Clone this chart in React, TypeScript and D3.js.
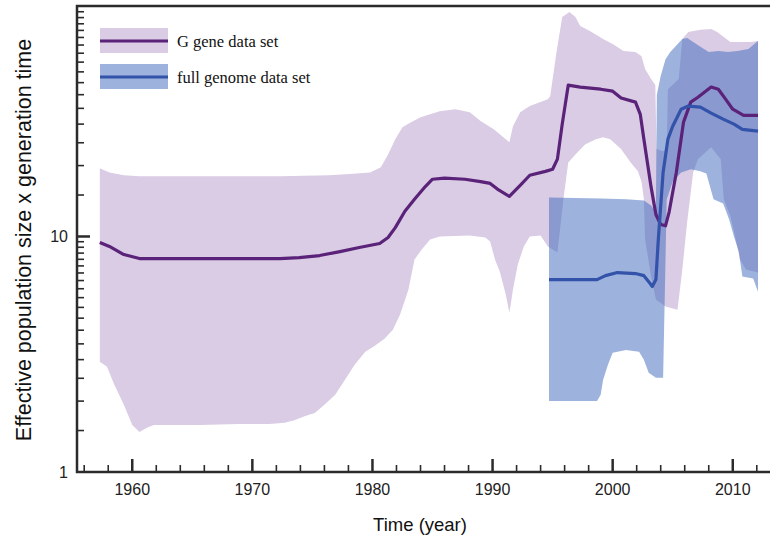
import * as d3 from 'd3';

type Pt = [number, number];

// G gene data set: [year, value]
const gMedian: Pt[] = [
  [1957.3, 9.43], [1958.1, 9.07], [1959.3, 8.38], [1960.6, 8.06], [1965.6, 8.06], [1972.3, 8.06],
  [1973.9, 8.14], [1975.6, 8.3], [1977.3, 8.63], [1978.9, 8.98], [1980.6, 9.34], [1981.3, 9.9],
  [1981.9, 10.9], [1982.7, 12.8], [1983.5, 14.4], [1984.4, 16.3], [1985.0, 17.5], [1986.0, 17.7],
  [1987.7, 17.5], [1989.0, 17.1], [1989.8, 16.8], [1990.4, 15.9], [1991.4, 14.8], [1992.3, 16.5],
  [1993.1, 18.2], [1994.4, 18.9], [1995.0, 19.3], [1995.4, 21.3], [1995.8, 30.0], [1996.3, 43.9],
  [1997.3, 43.1], [1999.0, 42.2], [2000.0, 41.4], [2000.7, 38.7], [2001.9, 37.2], [2002.3, 33.0],
  [2002.6, 25.9], [2003.2, 16.2], [2003.6, 12.4], [2004.0, 11.25], [2004.4, 11.1], [2004.7, 12.7],
  [2005.3, 18.7], [2005.9, 30.6], [2006.5, 37.2], [2007.1, 39.0], [2008.2, 43.1], [2008.8, 42.2],
  [2009.4, 38.3], [2010.0, 34.7], [2010.9, 32.7], [2012.1, 32.7],
];

const gUpper: Pt[] = [
  [1957.3, 19.5], [1958.1, 18.7], [1959.3, 18.2], [1960.6, 18.0], [1965.6, 18.0], [1972.3, 18.0],
  [1976.4, 18.2], [1978.1, 18.4], [1979.8, 18.7], [1980.7, 19.7], [1981.3, 22.3], [1981.9, 25.9],
  [1982.5, 29.1], [1983.1, 30.3], [1984.0, 32.1], [1985.6, 34.0], [1986.9, 34.7], [1988.1, 33.7],
  [1989.0, 30.9], [1990.1, 28.5], [1991.1, 25.9], [1991.4, 25.1], [1991.7, 29.4], [1992.3, 33.7],
  [1993.1, 35.8], [1994.6, 38.3], [1994.8, 39.4], [1995.3, 59.5], [1995.8, 85.5], [1996.4, 89.8],
  [1996.9, 85.5], [1997.3, 78.3], [1998.1, 74.6], [1999.2, 68.9], [2000.0, 65.6], [2000.9, 61.3],
  [2001.9, 60.7], [2002.4, 58.3], [2002.7, 51.4], [2003.2, 46.6], [2003.55, 44.0], [2003.65, 23.5],
  [2004.2, 23.0], [2004.5, 23.5], [2004.6, 42.2], [2005.5, 46.6], [2005.8, 68.9], [2006.3, 73.8],
  [2007.3, 75.5], [2008.2, 76.0], [2008.7, 73.8], [2009.8, 66.9], [2011.5, 66.9], [2012.1, 67.6],
];

const gLower: Pt[] = [
  [1957.3, 2.94], [1957.9, 2.8], [1958.5, 2.35], [1959.3, 1.93], [1960.0, 1.585], [1960.6, 1.48],
  [1961.3, 1.55], [1961.8, 1.585], [1965.6, 1.585], [1968.9, 1.6], [1971.4, 1.6], [1972.7, 1.62],
  [1973.5, 1.66], [1974.4, 1.73], [1975.2, 1.78], [1976.0, 1.93], [1976.9, 2.13], [1977.7, 2.46],
  [1978.5, 2.85], [1979.4, 3.24], [1980.2, 3.44], [1981.0, 3.68], [1981.7, 4.02], [1982.3, 4.66],
  [1983.0, 5.95], [1983.5, 7.98], [1984.1, 8.8], [1984.8, 9.71], [1985.6, 10.0], [1988.1, 10.1],
  [1989.4, 9.9], [1989.8, 9.52], [1990.2, 7.98], [1990.6, 7.1], [1991.1, 5.67], [1991.4, 4.75],
  [1991.7, 5.95], [1992.1, 7.6], [1992.6, 9.07], [1993.1, 10.0], [1994.0, 10.1], [1994.6, 9.07],
  [1995.4, 8.55], [1995.9, 14.4], [1996.3, 20.6], [1996.9, 22.3], [1997.7, 24.6], [1998.6, 25.9],
  [1999.2, 26.4], [1999.8, 25.9], [2000.7, 23.5], [2001.5, 20.6], [2002.1, 18.9], [2002.4, 17.1],
  [2002.6, 14.4], [2002.7, 9.71], [2003.2, 6.76], [2003.6, 5.4], [2004.4, 5.04], [2005.4, 4.89],
  [2005.8, 7.24], [2006.2, 11.5], [2006.7, 18.7], [2007.1, 21.3], [2008.2, 23.9], [2009.0, 21.3],
  [2009.25, 14.4], [2009.8, 12.2], [2010.2, 10.0], [2010.6, 7.98], [2011.1, 7.24], [2012.1, 7.03],
];

// full genome data set
const fMedian: Pt[] = [
  [1994.7, 6.56], [1998.7, 6.56], [1999.4, 6.82], [2000.4, 7.03], [2001.9, 6.96], [2002.6, 6.82],
  [2003.0, 6.43], [2003.3, 6.13], [2003.6, 6.56], [2003.8, 9.7], [2004.2, 18.7], [2004.6, 25.9],
  [2005.0, 29.4], [2005.7, 34.7], [2006.3, 35.8], [2007.3, 35.4], [2008.2, 33.4], [2009.2, 31.5],
  [2010.1, 30.0], [2010.8, 28.5], [2012.1, 28.0],
];

const fUpper: Pt[] = [
  [1994.7, 14.65], [1999.0, 14.5], [2001.1, 14.4], [2002.6, 14.2], [2003.2, 13.55], [2003.6, 12.65],
  [2003.68, 40.0], [2004.0, 48.0], [2004.4, 56.6], [2004.8, 60.7], [2005.8, 68.9], [2006.2, 69.6],
  [2006.7, 66.9], [2007.6, 62.5], [2008.0, 60.7], [2008.8, 61.3], [2009.6, 60.7], [2010.4, 61.3],
  [2011.3, 62.5], [2012.1, 67.6],
];

const fLower: Pt[] = [
  [1994.7, 2.0], [1998.7, 2.0], [1999.0, 2.13], [1999.2, 2.46], [1999.6, 2.85], [2000.0, 3.21],
  [2001.1, 3.3], [2002.2, 3.24], [2002.6, 3.0], [2003.0, 2.64], [2003.6, 2.51], [2004.2, 2.51],
  [2004.5, 14.4], [2005.0, 17.1], [2005.7, 18.7], [2006.5, 19.3], [2007.3, 18.9], [2007.8, 18.5],
  [2008.4, 14.4], [2009.2, 13.8], [2009.7, 11.8], [2010.1, 10.0], [2010.5, 8.63], [2010.8, 6.76],
  [2011.7, 6.63], [2012.1, 5.83],
];

const xMajorTicks = [1960, 1970, 1980, 1990, 2000, 2010];
const xMinorTicks = [1956, 1958, 1962, 1964, 1966, 1968, 1972, 1974, 1976, 1978, 1982, 1984, 1986, 1988,
  1992, 1994, 1996, 1998, 2002, 2004, 2006, 2008, 2012];
const yLabelTicks = [1, 10];
const yMinorTicks = [1.5, 2, 2.5, 3, 3.5, 4, 4.5, 5, 5.5, 6, 6.5, 7, 7.5, 8, 8.5, 9, 9.5,
  15, 20, 25, 30, 35, 40, 45, 50, 55, 60, 65, 70, 75, 80, 85, 90];

const legendItems = [
  { label: 'G gene data set', fill: '#d9cce4', stroke: '#5a2279' },
  { label: 'full genome data set', fill: '#9db2dc', stroke: '#3352aa' },
];

const width = 770;
const height = 539;
const left = 77;
const right = 770;
const top = 6;
const bottom = 472;
const axisColor = '#2b2b2b';
const sans = 'Liberation Sans, Arial, sans-serif';

export default function App() {
  const x = d3.scaleLinear().domain([1955.4, 2013.1]).range([left, right]);
  const y = d3.scaleLog().domain([1, 95.2]).range([bottom, top]);

  const line = d3
    .line<Pt>()
    .x((d) => x(d[0]))
    .y((d) => y(d[1]));

  const band = (upper: Pt[], lower: Pt[]) => line(upper.concat(lower.slice().reverse())) + 'Z';

  return (
    <svg
      width={width}
      height={height}
      viewBox={`0 0 ${width} ${height}`}
      style={{ position: 'absolute', left: 0, top: 0 }}
    >
      {/* credible intervals */}
      <path d={band(gUpper, gLower)} fill="#d9cce4" />
      <path d={band(fUpper, fLower)} fill="rgb(59,101,185)" fillOpacity={0.5} />

      {/* medians */}
      <path d={line(gMedian) ?? ''} fill="none" stroke="#5a2279" strokeWidth={3.2} strokeLinejoin="round" />
      <path d={line(fMedian) ?? ''} fill="none" stroke="#3352aa" strokeWidth={3.2} strokeLinejoin="round" />

      {/* frame */}
      <path
        d={`M${right},${top}H${left}V${bottom}H${right}`}
        fill="none"
        stroke={axisColor}
        strokeWidth={2.5}
      />

      {/* inward ticks */}
      <g stroke={axisColor}>
        {xMinorTicks.map((v) => (
          <line key={`xm${v}`} x1={x(v)} x2={x(v)} y1={bottom} y2={bottom - 7} strokeWidth={1.6} />
        ))}
        {xMajorTicks.map((v) => (
          <line key={`xM${v}`} x1={x(v)} x2={x(v)} y1={bottom} y2={bottom - 13} strokeWidth={2.5} />
        ))}
        {yMinorTicks.map((v) => (
          <line key={`ym${v}`} x1={left} x2={left + 7} y1={y(v)} y2={y(v)} strokeWidth={1.6} />
        ))}
        <line x1={left} x2={left + 13} y1={y(10)} y2={y(10)} strokeWidth={2.5} />
      </g>

      {xMajorTicks.map((v) => (
        <text key={`xl${v}`} x={x(v)} y={bottom + 23} textAnchor="middle" fontFamily={sans} fontSize={16} fill="#222">
          {v}
        </text>
      ))}
      {yLabelTicks.map((v) => (
        <text key={`yl${v}`} x={left - 9} y={y(v) + 5.5} textAnchor="end" fontFamily={sans} fontSize={16} fill="#222">
          {v}
        </text>
      ))}

      {/* axis titles */}
      <text x={420} y={531} textAnchor="middle" fontFamily={sans} fontSize={18.5} fill="#111">
        Time (year)
      </text>
      <text transform="translate(31,240) rotate(-90)" textAnchor="middle" fontFamily={sans} fontSize={21.5} fill="#111">
        Effective population size x generation time
      </text>

      {/* legend */}
      <g transform="translate(100,28)">
        {legendItems.map((d, i) => (
          <g key={d.label} transform={`translate(0,${i * 36})`}>
            <rect width={68} height={25} fill={d.fill} />
            <line x1={0} x2={68} y1={13} y2={13} stroke={d.stroke} strokeWidth={3} />
            <text x={77} y={18.5} fontFamily="Liberation Serif, Times New Roman, serif" fontSize={16.5} fill="#111">
              {d.label}
            </text>
          </g>
        ))}
      </g>
    </svg>
  );
}
